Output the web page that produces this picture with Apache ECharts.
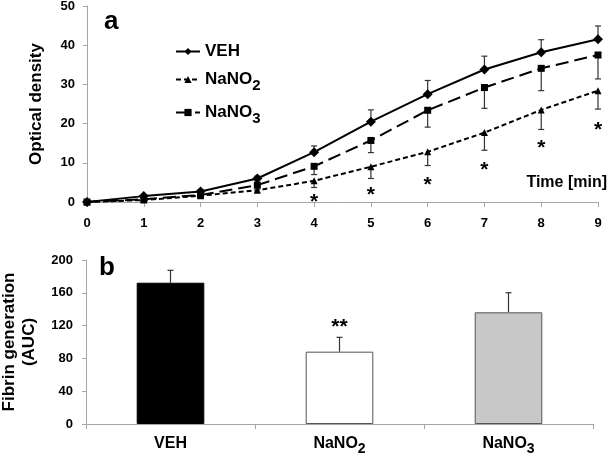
<!DOCTYPE html>
<html><head><meta charset="utf-8">
<script src="https://cdn.jsdelivr.net/npm/echarts@6/dist/echarts.min.js"></script>
<style>html,body{margin:0;padding:0;background:#fff}#c{width:609px;height:455px}</style>
</head><body><div id="c"></div>
<script>
// ---- data ----
const timePoints = [0,1,2,3,4,5,6,7,8,9];
const vehMean   = [0,1.5,2.7,6.0,12.7,20.5,27.5,33.8,38.2,41.5];
const vehSd     = [0,0.3,0.4,0.6,1.6,3.0,3.5,3.4,3.2,3.4];
const nitriteMean = [0,0.5,1.6,3.0,5.4,9.0,12.8,17.7,23.5,28.4];
const nitriteSd   = [0,0.2,0.3,0.5,1.7,3.0,3.5,4.5,5.0,4.7];
const nitrateMean = [0,0.7,1.8,4.3,9.1,15.7,23.4,29.2,34.1,37.5];
const nitrateSd   = [0,0.2,0.3,1.0,2.1,3.1,4.3,5.3,5.7,6.1];
const starPos     = [null,null,null,null,1.3,3.1,5.5,9.5,15.0,19.7];
const yTicksA = [0,10,20,30,40,50];

const groups   = ['VEH','NaNO2','NaNO3'];
const aucMean  = [172.3,88.2,136.2];
const aucSd    = [15.1,17.5,23.9];
const aucStars = ['','**',''];
const yTicksB = [0,40,80,120,160,200];

const FONT = '"Liberation Sans", Arial, sans-serif';
const sub = v => String(v).replace(/(\d)$/, '{s|$1}');
const richSub = {s:{fontSize:14,fontWeight:'bold',fontFamily:FONT,color:'#000',padding:[10,0,0,0]}};

function errBar(mean, sd, dir, xIndex, yIndex, cap){
  return {
    type:'custom', xAxisIndex:xIndex, yAxisIndex:yIndex, silent:true, z:1,
    data: mean.map((m,i)=>[i, m, sd[i]]),
    renderItem:(p, api)=>{
      const x = api.value(0), m = api.value(1), s = api.value(2);
      const xv = xIndex===0 ? timePoints[x] : x;
      const a = api.coord([xv, m]);
      const b = api.coord([xv, m + dir*s]);
      return {type:'group', children:[
        {type:'line', shape:{x1:a[0],y1:a[1],x2:b[0],y2:b[1]}, style:{stroke:'#333',lineWidth:1.2}},
        {type:'line', shape:{x1:b[0]-cap,y1:b[1],x2:b[0]+cap,y2:b[1]}, style:{stroke:'#333',lineWidth:1.2}}
      ]};
    }
  };
}

const axisLabel = {color:'#000', fontWeight:'bold', fontSize:13, fontFamily:FONT};
const axisLine = {lineStyle:{color:'#a6a6a6', width:1}};

const option = {
  animation:false,
  backgroundColor:'#fff',
  textStyle:{fontFamily:FONT},
  grid:[
    {left:87, right:11, top:6, height:196, outerBoundsMode:'none', containLabel:false},
    {left:86, right:16, top:260, height:164, outerBoundsMode:'none', containLabel:false}
  ],
  xAxis:[
    {type:'value', gridIndex:0, min:0, max:9, interval:1,
     axisLine:axisLine, axisTick:{show:true,length:5,lineStyle:{color:'#a6a6a6'}},
     splitLine:{show:false}, axisLabel:Object.assign({margin:15}, axisLabel)},
    {type:'category', gridIndex:1, data:groups,
     axisLine:axisLine, axisTick:{show:true,length:5,lineStyle:{color:'#a6a6a6'}},
     axisLabel:Object.assign({}, axisLabel, {margin:7, fontSize:16, lineHeight:26, formatter:sub, rich:richSub})}
  ],
  yAxis:[
    {type:'value', gridIndex:0, min:yTicksA[0], max:yTicksA[yTicksA.length-1], interval:10,
     axisLine:Object.assign({show:true},axisLine), axisTick:{show:true,length:4,lineStyle:{color:'#a6a6a6'}},
     splitLine:{show:false}, axisLabel:Object.assign({margin:12}, axisLabel),
     name:'Optical density', nameLocation:'middle', nameGap:42,
     nameTextStyle:{color:'#000', fontWeight:'bold', fontSize:17, fontFamily:FONT}},
    {type:'value', gridIndex:1, min:yTicksB[0], max:yTicksB[yTicksB.length-1], interval:40,
     axisLine:Object.assign({show:true},axisLine), axisTick:{show:true,length:4,lineStyle:{color:'#a6a6a6'}},
     splitLine:{show:false}, axisLabel:Object.assign({margin:13}, axisLabel),
     name:'Fibrin generation\n(AUC)', nameLocation:'middle', nameGap:47,
     nameTextStyle:{color:'#000', fontWeight:'bold', fontSize:17, lineHeight:20, fontFamily:FONT}}
  ],
  legend:{
    orient:'vertical', left:170, top:38, itemGap:11, itemWidth:24, itemHeight:9,
    data:['VEH','NaNO2','NaNO3'],
    formatter:sub,
    textStyle:{color:'#000', fontWeight:'bold', fontSize:17, fontFamily:FONT,
      rich:{s:{fontSize:15,fontWeight:'bold',fontFamily:FONT,color:'#000',padding:[12,0,0,0]}}}
  },
  graphic:[
    {type:'text', left:104, top:9, style:{text:'a', fontSize:26, fontWeight:'bold', fontFamily:FONT, fill:'#000'}},
    {type:'text', left:99, top:255, style:{text:'b', fontSize:26, fontWeight:'bold', fontFamily:FONT, fill:'#000'}},
    {type:'text', right:2, top:175, style:{text:'Time [min]', fontSize:16, fontWeight:'bold', fontFamily:FONT, fill:'#000'}}
  ],
  series:[
    errBar(vehMean, vehSd, 1, 0, 0, 3),
    errBar(nitriteMean, nitriteSd, -1, 0, 0, 3),
    errBar(nitrateMean, nitrateSd, -1, 0, 0, 3),
    {name:'VEH', type:'line', xAxisIndex:0, yAxisIndex:0, z:3,
     data:timePoints.map((t,i)=>[t, vehMean[i]]),
     symbol:'diamond', symbolSize:10, itemStyle:{color:'#000'},
     lineStyle:{color:'#000', width:2, type:'solid'}},
    {name:'NaNO2', type:'line', xAxisIndex:0, yAxisIndex:0, z:3,
     data:timePoints.map((t,i)=>[t, nitriteMean[i]]),
     symbol:'triangle', symbolSize:7, itemStyle:{color:'#000'},
     lineStyle:{color:'#000', width:2, type:[5,3]}},
    {name:'NaNO3', type:'line', xAxisIndex:0, yAxisIndex:0, z:3,
     data:timePoints.map((t,i)=>[t, nitrateMean[i]]),
     symbol:'rect', symbolSize:7, itemStyle:{color:'#000'},
     lineStyle:{color:'#000', width:2, type:[13,6]}},
    {type:'custom', xAxisIndex:0, yAxisIndex:0, silent:true,
     data:timePoints.map((t,i)=>[t, starPos[i]]).filter(d=>d[1]!==null),
     renderItem:(p, api)=>{
       const c = api.coord([api.value(0), api.value(1)]);
       return {type:'text', x:c[0], y:c[1]+5, style:{text:'*', fontSize:21, fontWeight:'bold', fontFamily:FONT, fill:'#000', align:'center', verticalAlign:'middle'}};
     }},
    {type:'bar', xAxisIndex:1, yAxisIndex:1, barWidth:'40%', z:2,
     data:aucMean.map((v,i)=>({value:v, itemStyle:{
       color:['#000','#fff','#c8c8c8'][i], borderColor:['#000','#555','#555'][i], borderWidth:1}})),
     label:{show:true, position:'top', distance:14, formatter:p=>aucStars[p.dataIndex],
       fontSize:21, fontWeight:'bold', color:'#000', fontFamily:FONT}},
    errBar(aucMean, aucSd, 1, 1, 1, 3)
  ]
};
const chart = echarts.init(document.getElementById('c'), null, {renderer:'canvas'});
chart.setOption(option);
</script></body></html>
